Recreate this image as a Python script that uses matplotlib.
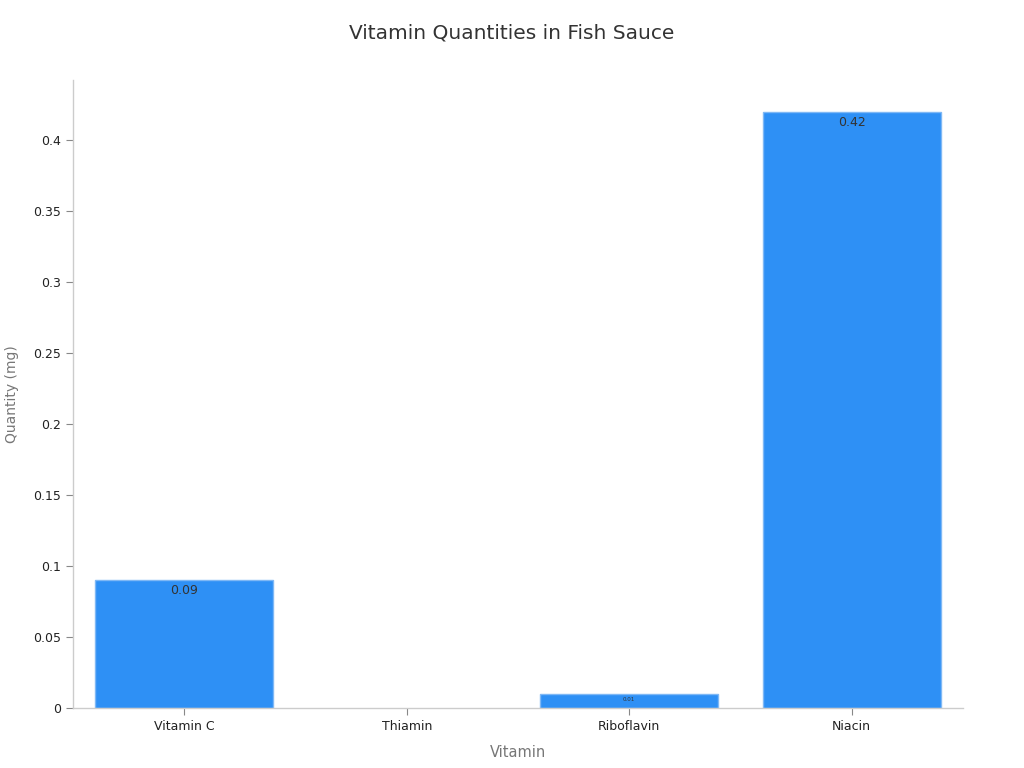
import matplotlib
matplotlib.use("Agg")
import matplotlib.pyplot as plt

categories = ["Vitamin C", "Thiamin", "Riboflavin", "Niacin"]
values = [0.09, 0.0, 0.01, 0.42]
label_texts = ["0.09", "", "0.01", "0.42"]
label_sizes = [9, 9, 4, 9]
yticks = [0, 0.05, 0.1, 0.15, 0.2, 0.25, 0.3, 0.35, 0.4]
ytick_labels = ["0", "0.05", "0.1", "0.15", "0.2", "0.25", "0.3", "0.35", "0.4"]

fig = plt.figure(figsize=(10.24, 7.68), dpi=100)
ax = fig.add_axes([0.0713, 0.078, 0.869, 0.818])

x = list(range(len(categories)))
edge_widths = [1.0 if v > 0 else 0.0 for v in values]
bars = ax.bar(x, values, width=0.8, color="#2e90f5", edgecolor="#7fb8f5",
              linewidth=edge_widths, zorder=2)

for xi, v, t, s in zip(x, values, label_texts, label_sizes):
    if t:
        ax.annotate(t, (xi, v), xytext=(0, -3 if s > 5 else -2), textcoords="offset points",
                    ha="center", va="top", fontsize=s, color="#333333")

ax.set_xlim(-0.5, 3.5)
ax.set_ylim(0, 0.4423)
ax.set_xticks(x)
ax.set_xticklabels(categories, fontsize=9, color="#222222")
ax.set_yticks(yticks)
ax.set_yticklabels(ytick_labels, fontsize=9, color="#222222")

for side in ["top", "right"]:
    ax.spines[side].set_visible(False)
for side in ["left", "bottom"]:
    ax.spines[side].set_color("#cccccc")
    ax.spines[side].set_linewidth(1.0)
ax.tick_params(axis="both", colors="#888888", length=5, width=0.8, labelcolor="#222222")

ax.set_xlabel("Vitamin", fontsize=10.5, color="#777777", labelpad=9)
ax.set_ylabel("Quantity (mg)", fontsize=10, color="#777777", labelpad=10)

fig.text(0.5, 0.957, "Vitamin Quantities in Fish Sauce", ha="center", va="center",
         fontsize=14.5, color="#333333")

fig.savefig("out.png", dpi=100, facecolor="white")
